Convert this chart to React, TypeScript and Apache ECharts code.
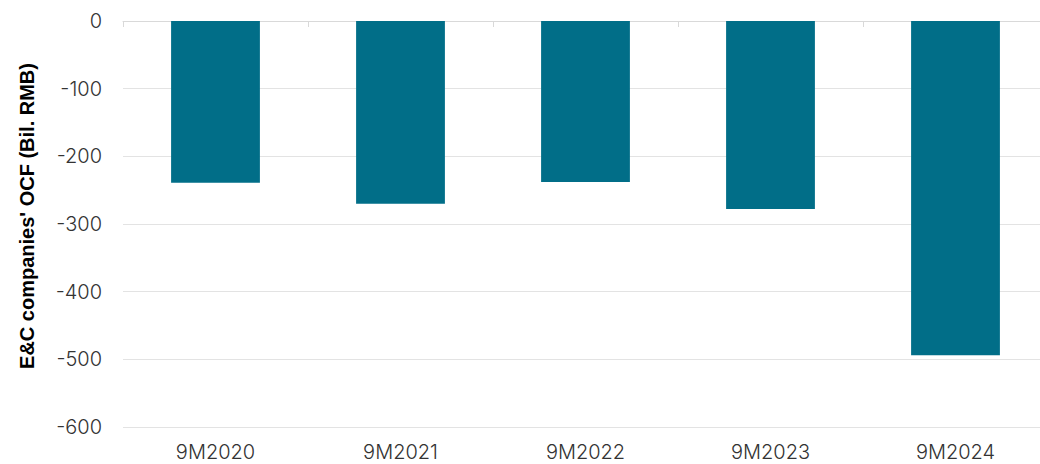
import React, { useEffect, useRef } from "react";
import * as echarts from "echarts";

const categories = ["9M2020", "9M2021", "9M2022", "9M2023", "9M2024"];
const ocfValues = [-239, -270, -238, -278, -494];
const yTicks = { min: -600, max: 0, interval: 100 };
const yAxisTitle = "E&C companies' OCF (Bil. RMB)";

export default function App() {
  const ref = useRef<HTMLDivElement>(null);
  useEffect(() => {
    if (!ref.current) return;
    const chart = echarts.init(ref.current, null, { renderer: "svg" });
    chart.setOption({
      animation: false,
      grid: { left: 123, right: 0, top: 21, bottom: 37 },
      graphic: [
        {
          type: "text",
          x: 27,
          y: 216,
          rotation: Math.PI / 2,
          style: {
            text: yAxisTitle,
            fill: "#000",
            fontSize: 20,
            fontWeight: "bold",
            fontFamily: "Liberation Sans",
            textAlign: "center",
            textVerticalAlign: "middle",
          },
        },
      ],
      xAxis: [
        {
          type: "category",
          data: categories,
          position: "bottom",
          axisLine: { show: false },
          axisTick: { show: false },
          axisLabel: {
            color: "#333",
            fontSize: 20,
            fontFamily: "Inter",
            fontWeight: 300,
            margin: 15,
          },
        },
        {
          type: "category",
          data: categories,
          position: "top",
          axisLine: { show: true, onZero: false, lineStyle: { color: "#d9d9d9", width: 1 } },
          axisTick: { show: true, inside: true, length: 6, lineStyle: { color: "#d9d9d9" } },
          axisLabel: { show: false },
        },
      ],
      yAxis: {
        type: "value",
        min: yTicks.min,
        max: yTicks.max,
        interval: yTicks.interval,
        axisLine: { show: false },
        axisTick: { show: false },
        axisLabel: {
          color: "#333",
          fontSize: 20,
          fontFamily: "Inter",
          fontWeight: 300,
          margin: 21,
        },
        splitLine: { lineStyle: { color: "#e3e3e3", width: 1 } },
      },
      series: [
        {
          type: "bar",
          data: ocfValues,
          barWidth: "48%",
          itemStyle: { color: "#016E88" },
        },
      ],
    });
    return () => chart.dispose();
  }, []);
  return (
    <div style={{ position: "absolute", left: 0, top: 0, width: 1040, height: 464, overflow: "hidden" }}>
      <div ref={ref} style={{ width: 1048, height: 464 }} />
    </div>
  );
}
